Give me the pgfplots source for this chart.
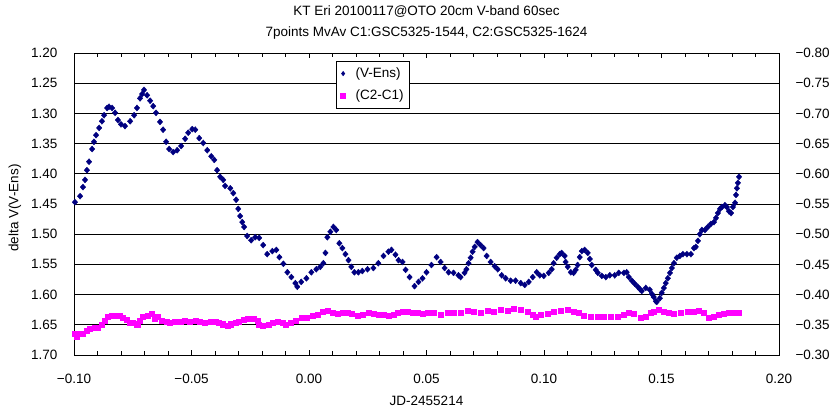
\documentclass[border=0pt]{standalone}
\usepackage{pgfplots}
\pgfplotsset{compat=1.18}
\usepackage{pgfplotstable}
\usepackage{fontspec}
\setmainfont{Liberation Sans}
\definecolor{navyv}{RGB}{0,0,128}
\definecolor{magc}{RGB}{255,0,255}
\newcommand{\fs}{\fontsize{13.5bp}{16bp}\selectfont}

\pgfplotstableread{
x y
-0.0996 1.447
-0.0974 1.437
-0.0962 1.422
-0.0953 1.410
-0.0945 1.394
-0.0936 1.380
-0.0923 1.359
-0.0915 1.347
-0.0906 1.336
-0.0893 1.324
-0.0881 1.313
-0.0872 1.303
-0.0859 1.291
-0.0851 1.289
-0.0838 1.291
-0.0825 1.299
-0.0813 1.311
-0.0800 1.318
-0.0783 1.321
-0.0761 1.313
-0.0744 1.303
-0.0732 1.291
-0.0719 1.275
-0.0710 1.268
-0.0702 1.261
-0.0689 1.270
-0.0676 1.279
-0.0663 1.288
-0.0651 1.299
-0.0634 1.314
-0.0621 1.327
-0.0608 1.347
-0.0595 1.359
-0.0578 1.364
-0.0561 1.361
-0.0544 1.354
-0.0527 1.342
-0.0514 1.332
-0.0497 1.326
-0.0484 1.327
-0.0467 1.341
-0.0450 1.349
-0.0433 1.361
-0.0416 1.371
-0.0403 1.377
-0.0391 1.394
-0.0378 1.405
-0.0365 1.410
-0.0357 1.420
-0.0335 1.424
-0.0322 1.432
-0.0310 1.443
-0.0301 1.458
-0.0293 1.470
-0.0284 1.480
-0.0276 1.488
-0.0263 1.503
-0.0246 1.510
-0.0229 1.505
-0.0212 1.506
-0.0195 1.518
-0.0178 1.533
-0.0156 1.528
-0.0139 1.526
-0.0126 1.538
-0.0109 1.549
-0.0092 1.563
-0.0075 1.571
-0.0058 1.581
-0.0050 1.587
-0.0033 1.579
-0.0011 1.573
0.0010 1.563
0.0031 1.558
0.0048 1.554
0.0061 1.548
0.0070 1.531
0.0078 1.505
0.0091 1.496
0.0104 1.488
0.0116 1.493
0.0129 1.515
0.0142 1.523
0.0155 1.533
0.0168 1.543
0.0180 1.554
0.0193 1.563
0.0210 1.563
0.0227 1.561
0.0249 1.558
0.0274 1.556
0.0295 1.548
0.0317 1.536
0.0338 1.529
0.0351 1.526
0.0368 1.534
0.0381 1.543
0.0398 1.546
0.0411 1.559
0.0428 1.571
0.0449 1.586
0.0466 1.579
0.0483 1.573
0.0500 1.563
0.0521 1.551
0.0543 1.538
0.0560 1.546
0.0577 1.556
0.0594 1.563
0.0615 1.564
0.0636 1.568
0.0645 1.571
0.0662 1.564
0.0670 1.558
0.0679 1.548
0.0688 1.539
0.0696 1.529
0.0705 1.521
0.0717 1.513
0.0730 1.518
0.0743 1.523
0.0756 1.536
0.0773 1.546
0.0790 1.553
0.0803 1.558
0.0820 1.568
0.0837 1.573
0.0858 1.577
0.0879 1.577
0.0901 1.581
0.0918 1.584
0.0935 1.579
0.0952 1.571
0.0969 1.563
0.0982 1.568
0.0999 1.569
0.1020 1.564
0.1033 1.558
0.1041 1.548
0.1054 1.539
0.1067 1.533
0.1075 1.531
0.1088 1.536
0.1092 1.546
0.1101 1.554
0.1114 1.563
0.1126 1.564
0.1135 1.559
0.1143 1.551
0.1152 1.538
0.1161 1.528
0.1173 1.526
0.1186 1.531
0.1195 1.541
0.1203 1.551
0.1220 1.559
0.1229 1.564
0.1246 1.569
0.1263 1.571
0.1280 1.568
0.1301 1.568
0.1318 1.564
0.1340 1.564
0.1352 1.563
0.1361 1.571
0.1374 1.577
0.1386 1.582
0.1399 1.587
0.1408 1.591
0.1416 1.594
0.1433 1.589
0.1450 1.592
0.1459 1.599
0.1467 1.604
0.1476 1.611
0.1480 1.612
0.1493 1.606
0.1501 1.597
0.1510 1.589
0.1518 1.581
0.1527 1.573
0.1536 1.564
0.1544 1.556
0.1553 1.548
0.1565 1.539
0.1578 1.536
0.1591 1.533
0.1608 1.533
0.1625 1.533
0.1638 1.523
0.1646 1.521
0.1655 1.511
0.1663 1.500
0.1672 1.493
0.1685 1.493
0.1697 1.488
0.1710 1.483
0.1723 1.480
0.1732 1.473
0.1740 1.465
0.1749 1.458
0.1757 1.455
0.1770 1.452
0.1778 1.455
0.1787 1.462
0.1796 1.465
0.1804 1.455
0.1813 1.448
0.1817 1.435
0.1821 1.424
0.1825 1.415
0.1830 1.405
}\vens

\pgfplotstableread{
x y
-0.0996 -0.335
-0.0987 -0.330
-0.0974 -0.335
-0.0962 -0.336
-0.0945 -0.340
-0.0932 -0.343
-0.0911 -0.345
-0.0898 -0.346
-0.0881 -0.350
-0.0868 -0.356
-0.0855 -0.363
-0.0838 -0.365
-0.0817 -0.365
-0.0804 -0.365
-0.0791 -0.361
-0.0774 -0.358
-0.0761 -0.353
-0.0749 -0.353
-0.0732 -0.351
-0.0727 -0.350
-0.0719 -0.356
-0.0706 -0.363
-0.0685 -0.365
-0.0668 -0.368
-0.0655 -0.360
-0.0642 -0.363
-0.0625 -0.356
-0.0604 -0.355
-0.0591 -0.353
-0.0570 -0.355
-0.0548 -0.355
-0.0527 -0.356
-0.0506 -0.355
-0.0484 -0.356
-0.0463 -0.355
-0.0442 -0.353
-0.0420 -0.355
-0.0399 -0.355
-0.0386 -0.353
-0.0369 -0.351
-0.0348 -0.348
-0.0335 -0.351
-0.0314 -0.353
-0.0301 -0.355
-0.0280 -0.358
-0.0259 -0.360
-0.0237 -0.360
-0.0220 -0.356
-0.0212 -0.350
-0.0195 -0.348
-0.0173 -0.350
-0.0156 -0.353
-0.0135 -0.355
-0.0114 -0.353
-0.0101 -0.350
-0.0080 -0.353
-0.0058 -0.356
-0.0033 -0.361
-0.0011 -0.361
0.0014 -0.365
0.0036 -0.366
0.0057 -0.371
0.0078 -0.373
0.0099 -0.370
0.0121 -0.368
0.0142 -0.370
0.0163 -0.370
0.0180 -0.368
0.0206 -0.365
0.0227 -0.366
0.0253 -0.370
0.0274 -0.368
0.0295 -0.366
0.0317 -0.366
0.0338 -0.365
0.0359 -0.366
0.0376 -0.370
0.0398 -0.371
0.0419 -0.371
0.0440 -0.370
0.0462 -0.370
0.0483 -0.368
0.0504 -0.370
0.0530 -0.370
0.0560 -0.366
0.0589 -0.370
0.0615 -0.370
0.0645 -0.370
0.0675 -0.373
0.0700 -0.371
0.0730 -0.370
0.0760 -0.373
0.0786 -0.371
0.0815 -0.375
0.0845 -0.373
0.0871 -0.376
0.0901 -0.375
0.0930 -0.371
0.0952 -0.366
0.0964 -0.363
0.0986 -0.366
0.1016 -0.368
0.1041 -0.371
0.1071 -0.373
0.1101 -0.375
0.1126 -0.371
0.1148 -0.370
0.1169 -0.365
0.1199 -0.363
0.1229 -0.363
0.1254 -0.363
0.1284 -0.363
0.1314 -0.363
0.1340 -0.366
0.1361 -0.370
0.1382 -0.368
0.1412 -0.361
0.1433 -0.363
0.1455 -0.370
0.1467 -0.371
0.1489 -0.375
0.1510 -0.371
0.1531 -0.370
0.1553 -0.368
0.1582 -0.370
0.1612 -0.371
0.1638 -0.371
0.1659 -0.373
0.1680 -0.370
0.1702 -0.361
0.1723 -0.363
0.1744 -0.366
0.1766 -0.368
0.1787 -0.370
0.1808 -0.370
0.1830 -0.370
}\cdiff

\begin{document}
\begin{tikzpicture}
\path[use as bounding box] (0,0) rectangle (835bp,414bp);
\begin{axis}[
  at={(74bp,59bp)}, anchor=south west,
  scale only axis, width=705bp, height=302bp,
  xmin=-0.1, xmax=0.2, ymin=1.2, ymax=1.7, y dir=reverse,
  axis line style={black, line width=0.8bp},
  xtick={-0.1,-0.05,0,0.05,0.1,0.15,0.2},
  xticklabels={−0.10,−0.05,0.00,0.05,0.10,0.15,0.20},
  minor x tick num=4,
  tick align=inside,
  major tick length=5bp, minor tick length=4bp,
  tick style={black, line width=0.8bp},
  ytick={1.2,1.25,1.3,1.35,1.4,1.45,1.5,1.55,1.6,1.65,1.7},
  yticklabels={1.20,1.25,1.30,1.35,1.40,1.45,1.50,1.55,1.60,1.65,1.70},
  ytick style={draw=none},
  ymajorgrids, major grid style={black, line width=0.8bp},
  tick label style={font=\fs},
  xticklabel style={yshift=-16bp},
  yticklabel style={xshift=-13bp},
]
\addplot[only marks, mark=diamond*, mark size=3bp, color=navyv,
  mark options={xscale=1.2}] table[x=x,y=y] {\vens};
\end{axis}
\begin{axis}[
  at={(74bp,59bp)}, anchor=south west,
  scale only axis, width=705bp, height=302bp,
  xmin=-0.1, xmax=0.2, ymin=-0.8, ymax=-0.3, y dir=reverse,
  axis x line=none, axis y line*=right,
  axis line style={black, line width=0.8bp},
  ytick={-0.8,-0.75,-0.7,-0.65,-0.6,-0.55,-0.5,-0.45,-0.4,-0.35,-0.3},
  yticklabels={−0.80,−0.75,−0.70,−0.65,−0.60,−0.55,−0.50,−0.45,−0.40,−0.35,−0.30},
  ytick style={draw=none},
  tick label style={font=\fs},
  yticklabel style={xshift=13bp},
  legend style={at={(0.372,0.975)}, anchor=north west, draw=black,
    line width=0.8bp, fill=white, font=\fs, inner xsep=4bp, inner ysep=5bp,
    row sep=7bp,
    /tikz/every odd column/.append style={column sep=8bp}},
  legend image post style={xshift=-1bp},
  legend cell align=left,
]
\addlegendimage{only marks, mark=diamond*, mark size=2bp, color=navyv}
\addlegendentry{(V-Ens)\hspace{14bp}}
\addplot[only marks, mark=square*, mark size=2.5bp, color=magc] table[x=x,y=y] {\cdiff};
\addlegendentry{(C2-C1)\hspace{14bp}}
\end{axis}
\node[font=\fs] at (426.5bp,402bp) {KT Eri 20100117@OTO 20cm V-band 60sec};
\node[font=\fs] at (426.5bp,381bp) {7points MvAv C1:GSC5325-1544, C2:GSC5325-1624};
\node[font=\fs, rotate=90] at (15bp,206bp) {delta V(V-Ens)};
\node[font=\fs] at (426.5bp,13bp) {JD-2455214};
\end{tikzpicture}
\end{document}
